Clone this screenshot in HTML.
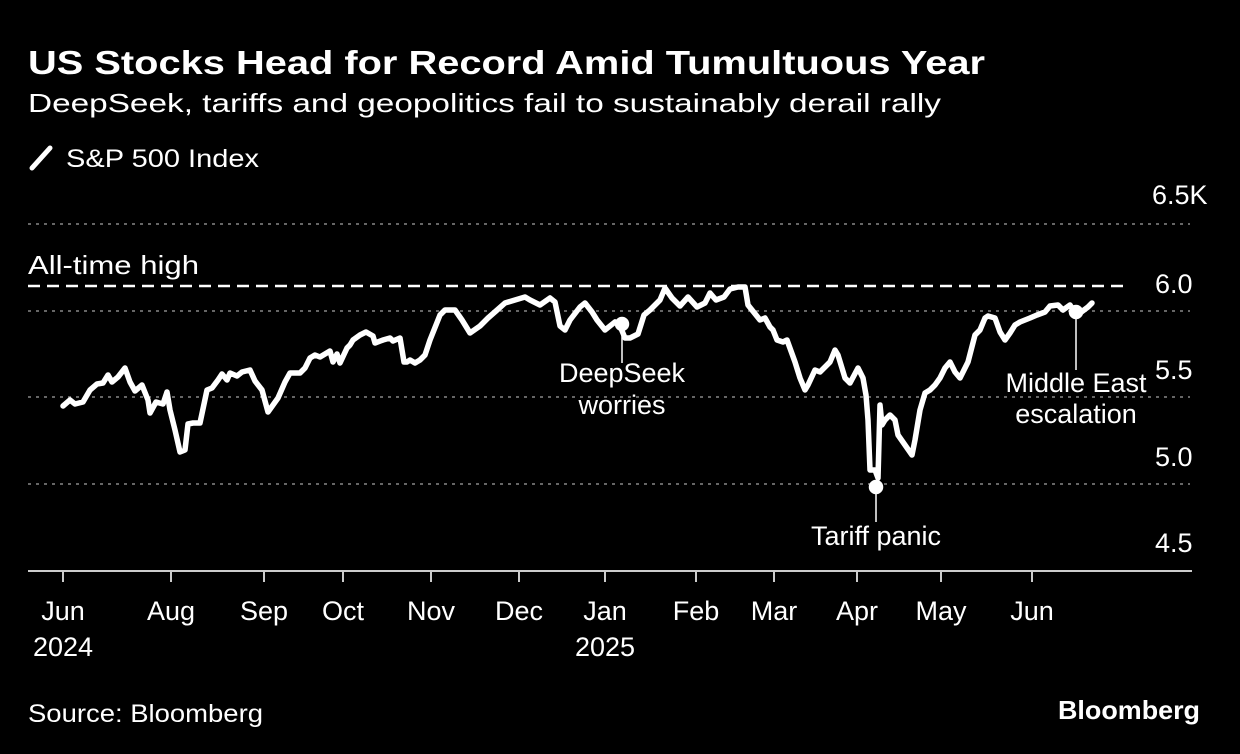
<!DOCTYPE html>
<html><head><meta charset="utf-8"><style>
html,body{margin:0;padding:0;background:#000;}
svg{display:block;}
text{font-family:"Liberation Sans","DejaVu Sans",sans-serif;fill:#fff;}
</style></head><body>
<svg width="1240" height="754" viewBox="0 0 1240 754" xmlns="http://www.w3.org/2000/svg">
<rect width="1240" height="754" fill="#000"/>
<text x="28" y="74" font-size="33" font-weight="bold" textLength="957" lengthAdjust="spacingAndGlyphs">US Stocks Head for Record Amid Tumultuous Year</text>
<text x="28" y="112" font-size="26" fill="#eee" textLength="913" lengthAdjust="spacingAndGlyphs">DeepSeek, tariffs and geopolitics fail to sustainably derail rally</text>
<line x1="32" y1="168" x2="50" y2="148" stroke="#fff" stroke-width="5" stroke-linecap="round"/>
<text x="66" y="167" font-size="25" fill="#ddd" textLength="193" lengthAdjust="spacingAndGlyphs">S&amp;P 500 Index</text>

<g stroke="#888" stroke-width="1.6" stroke-dasharray="3,5">
<line x1="28" y1="224" x2="1190" y2="224"/>
<line x1="28" y1="311" x2="1190" y2="311"/>
<line x1="28" y1="397" x2="1190" y2="397"/>
<line x1="28" y1="484" x2="1190" y2="484"/>
</g>
<line x1="28" y1="286" x2="1130" y2="286" stroke="#fff" stroke-width="2.5" stroke-dasharray="12,7"/>
<text x="28" y="274" font-size="26" textLength="171" lengthAdjust="spacingAndGlyphs">All-time high</text>

<g font-size="27" fill="#ddd">
<text x="1152" y="204">6.5K</text>
<text x="1155" y="293">6.0</text>
<text x="1155" y="379">5.5</text>
<text x="1155" y="466">5.0</text>
<text x="1155" y="552">4.5</text>
</g>

<line x1="28" y1="571" x2="1192" y2="571" stroke="#ccc" stroke-width="2"/>
<g stroke="#ccc" stroke-width="2">
<line x1="63" y1="571" x2="63" y2="582"/><line x1="171" y1="571" x2="171" y2="582"/>
<line x1="264" y1="571" x2="264" y2="582"/><line x1="343" y1="571" x2="343" y2="582"/>
<line x1="431" y1="571" x2="431" y2="582"/><line x1="519" y1="571" x2="519" y2="582"/>
<line x1="605" y1="571" x2="605" y2="582"/><line x1="696" y1="571" x2="696" y2="582"/>
<line x1="774" y1="571" x2="774" y2="582"/><line x1="857" y1="571" x2="857" y2="582"/>
<line x1="941" y1="571" x2="941" y2="582"/><line x1="1032" y1="571" x2="1032" y2="582"/>
</g>
<g font-size="27" fill="#ddd" text-anchor="middle">
<text x="63" y="620">Jun</text><text x="63" y="656">2024</text>
<text x="171" y="620">Aug</text><text x="264" y="620">Sep</text><text x="343" y="620">Oct</text>
<text x="431" y="620">Nov</text><text x="519" y="620">Dec</text>
<text x="605" y="620">Jan</text><text x="605" y="656">2025</text>
<text x="696" y="620">Feb</text><text x="774" y="620">Mar</text><text x="857" y="620">Apr</text>
<text x="941" y="620">May</text><text x="1032" y="620">Jun</text>
</g>

<polyline fill="none" stroke="#fff" stroke-width="5.5" stroke-linejoin="round" stroke-linecap="round" points="63,406 70,400 75,404 83,402 90,390 97,384 103,383 108,375 112,382 118,377 125,368 130,382 135,391 142,385 148,400 150,413 156,402 163,404 167,392 170,410 175,430 180,452 185,450 188,424 193,423 200,423 207,390 212,388 218,380 222,374 227,380 230,373 237,376 242,372 250,370 255,381 262,390 268,412 278,398 285,382 290,373 300,373 305,368 310,358 315,355 320,357 325,354 330,351 333,362 337,354 340,363 347,348 350,345 353,340 360,335 366,332 373,336 375,343 383,340 390,338 393,341 400,338 404,362 407,362 410,360 415,363 420,360 425,355 430,340 440,315 445,310 455,310 462,320 470,333 480,326 488,318 496,311 505,303 515,300 525,297 530,300 540,305 550,298 555,302 560,326 565,330 570,320 580,307 585,303 592,312 597,320 605,330 610,326 615,322 620,326 625,338 630,338 638,334 644,315 650,310 660,300 665,288 672,298 680,306 688,297 697,307 705,303 710,293 716,300 724,297 730,289 738,287 745,287 748,305 760,320 765,318 770,327 773,330 777,340 783,342 787,340 795,362 800,378 805,390 808,385 815,370 820,372 825,367 830,362 835,350 838,355 845,378 850,383 858,368 863,378 866,395 868,420 870,470 875,470 878,478 880,405 882,425 885,420 890,415 895,420 898,435 905,445 912,455 915,440 920,410 925,393 930,390 935,385 940,378 945,368 950,362 955,372 960,378 968,362 975,335 980,330 985,318 988,316 995,318 1000,332 1005,340 1010,333 1015,325 1020,322 1030,318 1037,315 1045,312 1050,306 1058,305 1063,310 1070,305 1075,313 1080,313 1088,307 1092,303"/>

<g fill="#fff" stroke="#fff" stroke-width="1.5">
<circle cx="622" cy="324" r="6.5"/><line x1="622" y1="324" x2="622" y2="363"/>
<circle cx="876" cy="487" r="6.5"/><line x1="876" y1="487" x2="876" y2="522"/>
<circle cx="1076" cy="312" r="6.5"/><line x1="1076" y1="312" x2="1076" y2="370"/>
</g>
<g font-size="27" text-anchor="middle">
<text x="622" y="382">DeepSeek</text><text x="622" y="414">worries</text>
<text x="876" y="545">Tariff panic</text>
<text x="1076" y="392">Middle East</text><text x="1076" y="423">escalation</text>
</g>

<text x="28" y="722" font-size="25" fill="#ccc" textLength="235" lengthAdjust="spacingAndGlyphs">Source: Bloomberg</text>
<text x="1200" y="719" font-size="26" font-weight="bold" text-anchor="end" textLength="142" lengthAdjust="spacingAndGlyphs">Bloomberg</text>
</svg>
</body></html>
